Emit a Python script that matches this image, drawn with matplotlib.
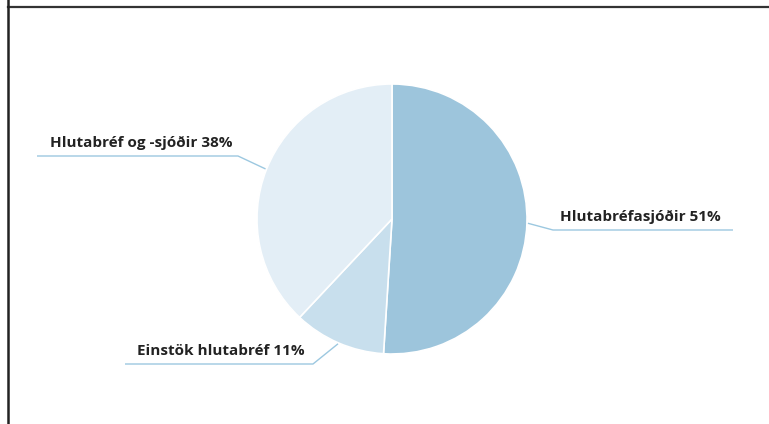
import numpy as np
import matplotlib.pyplot as plt
from matplotlib.lines import Line2D

labels = ['Hlutabréfasjóðir', 'Einstök hlutabréf', 'Hlutabréf og -sjóðir']
shares = [51, 11, 38]
colors = ['#9dc5dc', '#c8dfed', '#e3eef6']

W, H = 769, 424
fig = plt.figure(figsize=(W / 100, H / 100), dpi=100)
ax = fig.add_axes([0, 0, 1, 1])

cx, cy, r = 392, H - 219, 135
wedges, _ = ax.pie(shares, colors=colors, startangle=90, counterclock=False,
                   center=(cx, cy), radius=r, frame=True,
                   wedgeprops=dict(edgecolor='white', linewidth=1.2))
ax.set_xlim(0, W)
ax.set_ylim(0, H)
ax.set_aspect('equal')
ax.axis('off')

# elbow of each leader line, end of its underline, left edge of its text
elbows = [(553, H - 230), (313, H - 364), (238, H - 156)]
ends = [733, 125, 37]
text_x = [560, 137, 50]
line_col = '#9cc8e0'

for w, lab, val, (ex, ey), xe, tx in zip(wedges, labels, shares, elbows, ends, text_x):
    mid = np.deg2rad((w.theta1 + w.theta2) / 2)
    px, py = cx + (r + 1) * np.cos(mid), cy + (r + 1) * np.sin(mid)
    ax.plot([px, ex, xe], [py, ey, ey], color=line_col, lw=1, solid_capstyle='butt')
    ax.text(tx, ey + 6, f'{lab} {val}%', ha='left', va='bottom', fontsize=11,
            fontweight='bold', color='#222222', family='Open Sans')

# frame on top and left
fig.add_artist(Line2D([8 / W, 1], [1 - 7 / H, 1 - 7 / H], color='#333333', lw=1.6))
fig.add_artist(Line2D([8 / W, 8 / W], [0, 1], color='#222222', lw=1.8))

fig.savefig('out.png', dpi=100)
